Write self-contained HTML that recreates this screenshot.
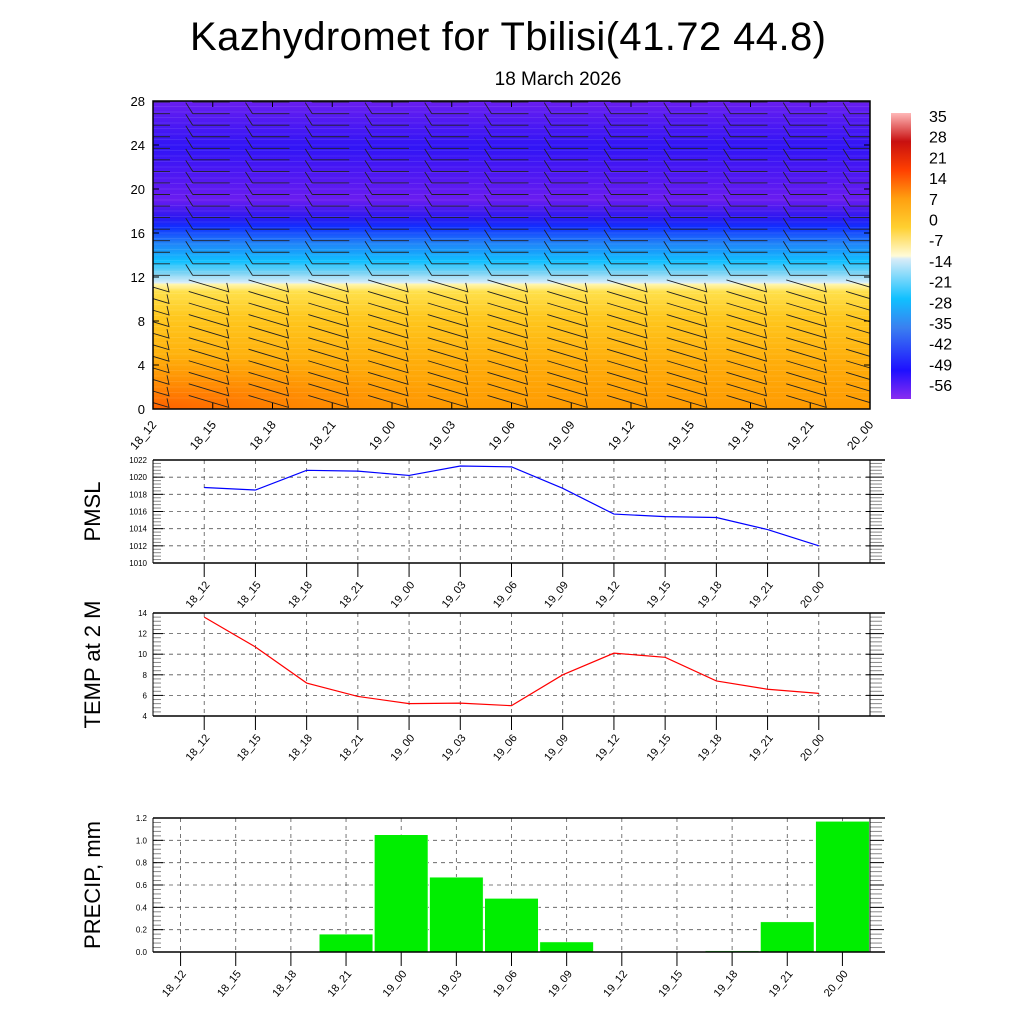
<!DOCTYPE html>
<html><head><meta charset="utf-8"><style>
html,body{margin:0;padding:0;background:#fff;}
svg{display:block;font-family:"Liberation Sans",sans-serif;}
</style></head><body>
<svg id="root" width="1024" height="1024" viewBox="0 0 1024 1024" xmlns="http://www.w3.org/2000/svg">
<defs>
<clipPath id="cclip"><rect x="153" y="101" width="717" height="308"/></clipPath>
<linearGradient id="tgrad" x1="0" y1="1" x2="0" y2="0">
<stop offset="0" stop-color="#ff9a00"/>
<stop offset="0.15" stop-color="#ffad0a"/>
<stop offset="0.3" stop-color="#ffc81e"/>
<stop offset="0.38" stop-color="#ffe04a"/>
<stop offset="0.405" stop-color="#fff6b0"/>
<stop offset="0.41" stop-color="#d8eefa"/>
<stop offset="0.44" stop-color="#80d4f4"/>
<stop offset="0.48" stop-color="#10c0ff"/>
<stop offset="0.54" stop-color="#2080f8"/>
<stop offset="0.59" stop-color="#1030ff"/>
<stop offset="0.62" stop-color="#2a18f0"/>
<stop offset="0.68" stop-color="#6a1cf0"/>
<stop offset="0.75" stop-color="#5218f2"/>
<stop offset="0.85" stop-color="#3014f6"/>
<stop offset="1" stop-color="#6a1ef0"/>
</linearGradient>
<radialGradient id="hot" cx="0" cy="1" r="0.45" gradientUnits="objectBoundingBox">
<stop offset="0" stop-color="#ff5a00" stop-opacity="0.9"/>
<stop offset="1" stop-color="#ff8a00" stop-opacity="0"/>
</radialGradient>
<linearGradient id="cbar" x1="0" y1="1" x2="0" y2="0">
<stop offset="0" stop-color="#8a2cf0"/>
<stop offset="0.1" stop-color="#1e10ff"/>
<stop offset="0.25" stop-color="#3a80f0"/>
<stop offset="0.35" stop-color="#10c0ff"/>
<stop offset="0.49" stop-color="#d8ecf8"/>
<stop offset="0.5" stop-color="#fffbd8"/>
<stop offset="0.6" stop-color="#ffd030"/>
<stop offset="0.7" stop-color="#ffa010"/>
<stop offset="0.8" stop-color="#ff4000"/>
<stop offset="0.9" stop-color="#c81010"/>
<stop offset="1" stop-color="#ffb8b8"/>
</linearGradient>
</defs>
<text x="508" y="50" font-size="40" text-anchor="middle" textLength="636">Kazhydromet for Tbilisi(41.72 44.8)</text>
<text x="558" y="85" font-size="19" text-anchor="middle">18 March 2026</text>
<g id="contour"></g>
<g id="cb"></g>
<g id="pmsl"></g>
<g id="temp"></g>
<g id="prec"></g>
</svg>
<script>
const categories=["18_12","18_15","18_18","18_21","19_00","19_03","19_06","19_09","19_12","19_15","19_18","19_21","20_00"];
const pmslValues=[1018.8,1018.5,1020.8,1020.7,1020.2,1021.3,1021.2,1018.7,1015.7,1015.4,1015.3,1013.9,1012.0];
const tempValues=[13.6,10.7,7.2,5.9,5.2,5.25,5.0,8.0,10.1,9.7,7.4,6.6,6.2];
const precipValues=[0,0,0,0.16,1.05,0.67,0.48,0.09,0,0,0.01,0.27,1.17];
const pmslTicks=[1010,1012,1014,1016,1018,1020,1022];
const tempTicks=[4,6,8,10,12,14];
const precipTicks=[0.0,0.2,0.4,0.6,0.8,1.0,1.2];
const heightTicks=[0,4,8,12,16,20,24,28];
const cbLabels=["35","28","21","14","7","0","-7","-14","-21","-28","-35","-42","-49","-56"];
const NS="http://www.w3.org/2000/svg";
function mk(p,t,a){const e=document.createElementNS(NS,t);for(const k in a)e.setAttribute(k,a[k]);p.appendChild(e);return e;}

(function(){
const g=document.getElementById('contour');
const L=153,R=870,T=101,B=409;
const xs=i=>L+i*(R-L)/12, ys=v=>B-(v/28)*(B-T);
let r=mk(g,'rect',{x:L,y:T,width:R-L,height:B-T,fill:'url(#tgrad)'});

mk(g,'rect',{x:L,y:ys(11),width:R-L,height:B-ys(11),fill:'url(#hot)'});
for(let v=1;v<28;v+=0.5){mk(g,'line',{x1:L,x2:R,y1:ys(v),y2:ys(v),stroke:'#fff','stroke-opacity':0.12,'stroke-width':0.7});}
const bg=mk(g,'g',{stroke:'#222','stroke-width':0.9,fill:'none','clip-path':'url(#cclip)'});

for(let i=0;i<13;i++){const x=xs(i);
 for(let v=0.6;v<28;v+=1.05){const y=ys(v);
  if(v>11.5){mk(bg,'path',{d:`M${x-20},${y} L${x+17},${y} M${x-20},${y} L${x-27},${y-11}`});}
  else {mk(bg,'path',{d:`M${x-24},${y-7} L${x+16},${y+5} L${x+14},${y-4}`});}
 }}
mk(g,'rect',{x:L,y:T,width:R-L,height:B-T,fill:'none',stroke:'#000','stroke-width':1.5});
heightTicks.forEach(h=>{const y=ys(h);mk(g,'line',{x1:L,x2:L+6,y1:y,y2:y,stroke:'#000'});mk(g,'line',{x1:R,x2:R-6,y1:y,y2:y,stroke:'#000'});
 const t=mk(g,'text',{x:L-8,y:y+5,'font-size':13,'text-anchor':'end'});t.textContent=h;
 });
categories.forEach((c,i)=>{const x=xs(i);mk(g,'line',{x1:x,x2:x,y1:B,y2:B-6,stroke:'#000'});mk(g,'line',{x1:x,x2:x,y1:T,y2:T+6,stroke:'#000'});
 const t=mk(g,'text',{x:x+4,y:B+16,'font-size':12,'text-anchor':'end',transform:`rotate(-50 ${x+4} ${B+16})`});t.textContent=c;
 });
})();

(function(){
const g=document.getElementById('cb');
const r=mk(g,'rect',{x:891,y:113,width:20,height:286,fill:'url(#cbar)'});

cbLabels.forEach((l,i)=>{const t=mk(g,'text',{x:929,y:122+i*20.7,'font-size':16});t.textContent=l;
 });
})();

function panel(id,T,B,ticks,vals,color,ytitle,lineMode,fontsz){
const g=document.getElementById(id);
const L=153,R=870;
const step=lineMode?(R-L)/14:(R-L)/13;
const xs=i=>lineMode?L+(i+1)*step:L+(i+0.5)*step;
const lo=ticks[0],hi=ticks[ticks.length-1];
const ys=v=>B-(v-lo)/(hi-lo)*(B-T);
categories.forEach((c,i)=>{mk(g,'line',{x1:xs(i),x2:xs(i),y1:T,y2:B,stroke:'#555','stroke-dasharray':'4,4','stroke-width':0.8});});
ticks.forEach(v=>{const y=ys(v);mk(g,'line',{x1:L,x2:R,y1:y,y2:y,stroke:'#555','stroke-dasharray':'4,4','stroke-width':0.8});
 const t=mk(g,'text',{x:L-6,y:y+3,'font-size':8,'text-anchor':'end'});t.textContent=(id==='prec')?v.toFixed(1):v;
 });
for(let k=0;k<ticks.length-1;k++){for(let m=1;m<5;m++){const y=ys(ticks[k]+(ticks[k+1]-ticks[k])*m/5);
 mk(g,'line',{x1:L,x2:L+8,y1:y,y2:y,stroke:'#888'});mk(g,'line',{x1:R,x2:R+12,y1:y,y2:y,stroke:'#888'});}}
ticks.forEach(v=>{const y=ys(v);mk(g,'line',{x1:L,x2:L+10,y1:y,y2:y,stroke:'#000'});mk(g,'line',{x1:R-4,x2:R+14,y1:y,y2:y,stroke:'#000'});});
if(lineMode){
 const d=vals.map((v,i)=>(i?'L':'M')+xs(i)+','+ys(v)).join(' ');
 const p=mk(g,'path',{d:d,stroke:color,fill:'none','stroke-width':1.2});
 
}else{
 vals.forEach((v,i)=>{if(v<=0)return;const b=mk(g,'rect',{x:L+i*step+0.8,y:ys(v),width:step-1.6,height:B-ys(v),fill:color,stroke:'#fff','stroke-width':0.5});
  });
}
mk(g,'line',{x1:L,x2:R+15,y1:T,y2:T,stroke:'#000','stroke-width':1.5});
mk(g,'line',{x1:L,x2:R+15,y1:B,y2:B,stroke:'#000','stroke-width':1.5});
mk(g,'line',{x1:L,x2:L,y1:T,y2:B,stroke:'#000'});mk(g,'line',{x1:R,x2:R,y1:T,y2:B,stroke:'#000'});
categories.forEach((c,i)=>{const x=xs(i);mk(g,'line',{x1:x,x2:x,y1:B,y2:B+14,stroke:'#000'});
 const tx=x+6,ty=B+22;const t=mk(g,'text',{x:tx,y:ty,'font-size':11,'text-anchor':'end',transform:`rotate(-50 ${tx} ${ty})`});t.textContent=c;
 });
const cy=(T+B)/2;const t=mk(g,'text',{x:100,y:cy,'font-size':fontsz,'text-anchor':'middle',transform:`rotate(-90 100 ${cy})`});t.textContent=ytitle;

}
panel('pmsl',460,563,pmslTicks,pmslValues,'#0000ff','PMSL',true,22);
panel('temp',613,716,tempTicks,tempValues,'#ff0000','TEMP at 2 M',true,22);
panel('prec',818,952,precipTicks,precipValues,'#00ee00','PRECIP, mm',false,22);
</script>
</body></html>
